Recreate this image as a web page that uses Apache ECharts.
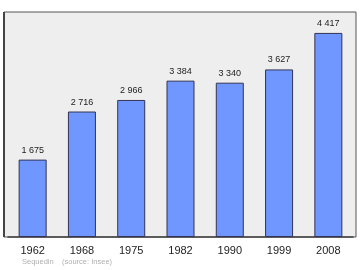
<!DOCTYPE html>
<html><head><meta charset="utf-8">
<script src="https://cdn.jsdelivr.net/npm/echarts@6/dist/echarts.min.js"></script>
<style>html,body{margin:0;padding:0;background:#fff}#c{width:360px;height:270px}</style>
</head><body><div id="c"></div>
<script>
var categories = ['1962','1968','1975','1982','1990','1999','2008'];
var population = [1675, 2716, 2966, 3384, 3340, 3627, 4417];
var footer = 'Sequedin    (source: Insee)';

function fmt(v){ return String(v).replace(/\B(?=(\d{3})+(?!\d))/g, ' '); }

var chart = echarts.init(document.getElementById('c'), null, {renderer:'canvas'});
chart.setOption({
  animation: false,
  backgroundColor: '#ffffff',
  graphic: [
    {type:'rect', z:-10, shape:{x:4, y:12, width:352, height:225},
     style:{fill:'#eeeeee', stroke:'#555555', lineWidth:1}},
    {type:'line', z:-9, shape:{x1:4, y1:12, x2:4, y2:237}, style:{stroke:'#444444', lineWidth:2}},
    {type:'text', left:22, top:258, style:{text:footer, fill:'#b0b0b0', font:'7.5px "Liberation Sans", Arial, sans-serif'}}
  ],
  grid: {left:8, right:7, top:12, bottom:33},
  xAxis: {
    type:'category', data:categories,
    axisLine:{show:true, lineStyle:{color:'#444444', width:1.5}},
    axisTick:{show:false},
    axisLabel:{color:'#222222', fontSize:11, fontFamily:'Liberation Sans', margin:8}
  },
  yAxis: {type:'value', min:0, max:4870, show:false, splitLine:{show:false}},
  series: [{
    type:'bar', data:population, barWidth:28,
    itemStyle:{color:'#6f97ff', borderColor:'#333355', borderWidth:1},
    label:{show:true, position:'top', distance:5, color:'#222222', fontSize:9,
      fontFamily:'Liberation Sans', formatter:function(p){return fmt(p.value);}}
  }]
});
</script></body></html>
